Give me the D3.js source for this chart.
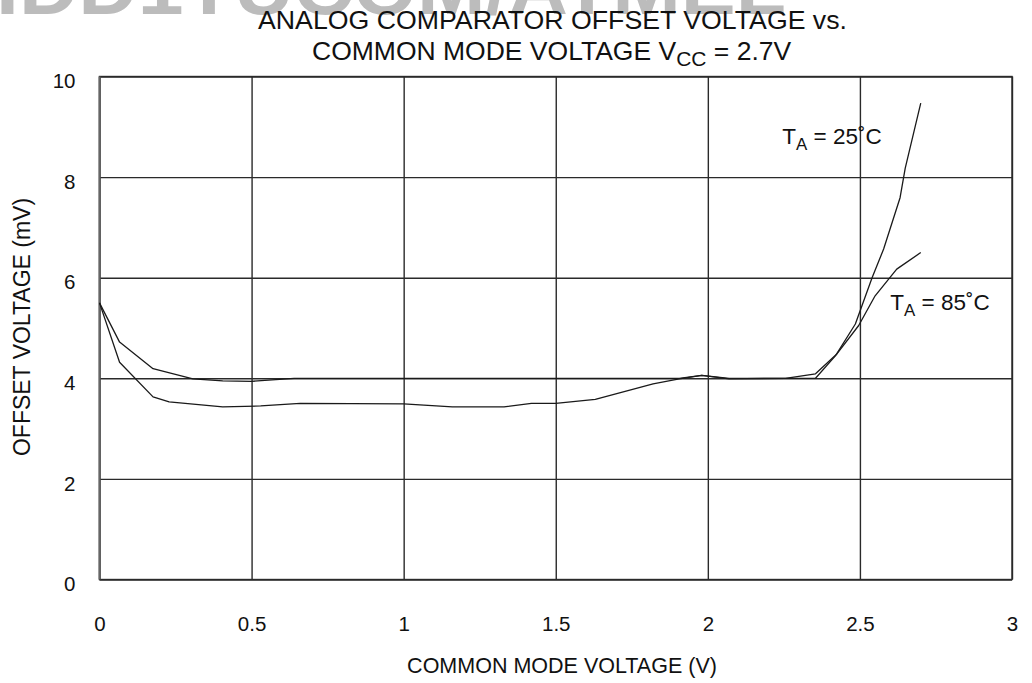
<!DOCTYPE html>
<html><head><meta charset="utf-8">
<script src="https://cdn.jsdelivr.net/npm/d3@7"></script>
<style>body{margin:0;background:#fff} svg{display:block}</style>
</head><body>
<svg id="c" width="1032" height="683"></svg>
<script>
// ---- data ----
const xTicks = [0, 0.5, 1, 1.5, 2, 2.5, 3];
const yTicks = [0, 2, 4, 6, 8, 10];
const xTickLabels = ["0", "0.5", "1", "1.5", "2", "2.5", "3"];
const yTickLabels = ["0", "2", "4", "6", "8", "10"];

// T_A = 25°C (lower at left, steep rise to 9.5)
const v25 = [0, 0.066, 0.176, 0.229, 0.405, 0.53, 0.66, 1.0, 1.16, 1.33, 1.42, 1.5, 1.63, 1.82, 1.906, 1.98, 2.07, 2.255, 2.354, 2.42, 2.485, 2.54, 2.578, 2.632, 2.649, 2.7];
const off25 = [5.5, 4.32, 3.63, 3.53, 3.43, 3.45, 3.5, 3.49, 3.43, 3.43, 3.5, 3.5, 3.58, 3.89, 3.99, 4.06, 3.99, 4.0, 4.0, 4.45, 5.08, 6.0, 6.57, 7.59, 8.18, 9.47];

// T_A = 85°C (upper at left, ends at 6.5)
const v85 = [0, 0.066, 0.176, 0.307, 0.405, 0.5, 0.64, 1.0, 1.5, 1.906, 1.98, 2.07, 2.255, 2.354, 2.425, 2.496, 2.55, 2.621, 2.7];
const off85 = [5.5, 4.72, 4.19, 3.99, 3.95, 3.94, 4.0, 4.0, 4.0, 4.0, 4.06, 4.0, 4.0, 4.09, 4.49, 5.05, 5.64, 6.17, 6.5];

const seriesNames = ["25", "85"];

// ---- layout ----
const L = 99.5, R = 1012, T = 76.5, B = 579.5;
const svg = d3.select("#c");
const FONT = "'Liberation Sans', Arial, Helvetica, sans-serif";

const x = d3.scaleLinear().domain([0, 3]).range([L, R]);
const y = d3.scaleLinear().domain([0, 10]).range([B, T]);

// watermark (cut at top)
svg.append("text")
  .attr("x", -4).attr("y", 14)
  .attr("font-family", FONT).attr("font-weight", "bold")
  .attr("font-size", 76).attr("fill", "#bcbcbc")
  .attr("textLength", 790).attr("lengthAdjust", "spacingAndGlyphs")
  .text("IDD1TUCOM/ATMEL");

// grid via axes
const gx = svg.append("g").attr("transform", `translate(0,${B})`)
  .call(d3.axisBottom(x).tickValues(xTicks).tickFormat((d, i) => xTickLabels[i])
    .tickSize(-(B - T)).tickPadding(37));
const gy = svg.append("g").attr("transform", `translate(${L},0)`)
  .call(d3.axisLeft(y).tickValues(yTicks).tickFormat((d, i) => yTickLabels[i])
    .tickSize(-(R - L)).tickPadding(24));

[gx, gy].forEach(g => {
  g.select(".domain").remove();
  g.selectAll(".tick line").attr("stroke", "#2a2a2a").attr("stroke-width", 1.4);
  g.selectAll(".tick text").attr("font-family", FONT).attr("font-size", 20.5).attr("fill", "#111");
});
gy.selectAll(".tick text").attr("dy", "0.55em");
// frame
svg.append("rect").attr("x", L).attr("y", T).attr("width", R - L).attr("height", B - T)
  .attr("fill", "none").attr("stroke", "#2a2a2a").attr("stroke-width", 1.4);
svg.append("line").attr("x1", L).attr("x2", L).attr("y1", T).attr("y2", B)
  .attr("stroke", "#666").attr("stroke-width", 2);

// curves
const line = d3.line().x(d => x(d[0])).y(d => y(d[1]));
const sets = [d3.zip(v25, off25), d3.zip(v85, off85)];
svg.append("g").selectAll("path").data(sets).join("path")
  .attr("d", line).attr("fill", "none").attr("stroke", "#1a1a1a").attr("stroke-width", 1.3)
  .attr("stroke-linejoin", "round");

// titles
svg.append("text").attr("x", 552.5).attr("y", 29).attr("text-anchor", "middle")
  .attr("font-family", FONT).attr("font-size", 25.5).attr("fill", "#111")
  .attr("textLength", 589).attr("lengthAdjust", "spacingAndGlyphs")
  .text("ANALOG COMPARATOR OFFSET VOLTAGE vs.");
const t2 = svg.append("text").attr("x", 312).attr("y", 60)
  .attr("font-family", FONT).attr("font-size", 26.5).attr("fill", "#111");
t2.append("tspan").text("COMMON MODE VOLTAGE V");
t2.append("tspan").attr("font-size", 21).attr("dy", 6).text("CC");
t2.append("tspan").attr("dy", -6).text(" = 2.7V");

// axis titles
svg.append("text").attr("x", 562).attr("y", 673).attr("text-anchor", "middle")
  .attr("font-family", FONT).attr("font-size", 21.5).attr("fill", "#111")
  .text("COMMON MODE VOLTAGE (V)");
svg.append("text").attr("transform", "translate(30,327) rotate(-90)").attr("text-anchor", "middle")
  .attr("font-family", FONT).attr("font-size", 23).attr("fill", "#111")
  .text("OFFSET VOLTAGE (mV)");

// annotations
function ann(xp, yp, deg, fs) {
  const t = svg.append("text").attr("x", xp).attr("y", yp)
    .attr("font-family", FONT).attr("font-size", fs).attr("fill", "#111");
  t.append("tspan").text("T");
  t.append("tspan").attr("font-size", fs * 0.75).attr("dy", 6).text("A");
  t.append("tspan").attr("dy", -6).text(" = " + deg + "˚C");
}
ann(x(2.245), y(8.66), seriesNames[0], 22.5);
ann(x(2.6), y(5.35), seriesNames[1], 22.5);
</script>
</body></html>
